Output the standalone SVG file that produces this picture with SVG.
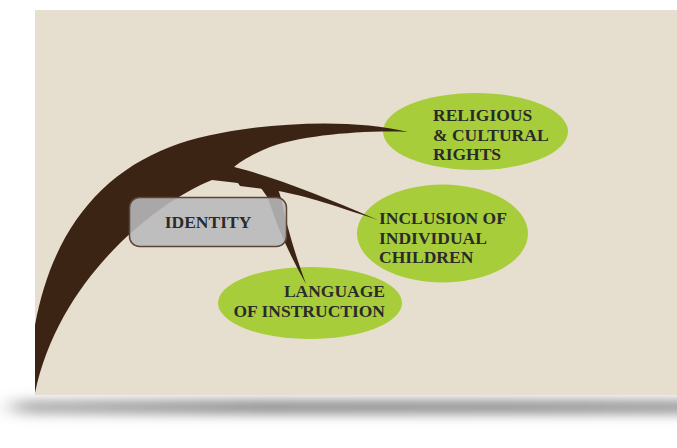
<svg xmlns="http://www.w3.org/2000/svg" width="677" height="448" viewBox="0 0 677 448">
<defs>
<style>
.bubble{fill:#a8cd3a}
.lbl{font-family:"Liberation Serif","Times New Roman",serif;font-weight:bold;font-size:17.5px;fill:#2a2a2a}
.branch{fill:#3c2415}
</style>
<clipPath id="panelClip"><rect x="35" y="10" width="642" height="385"/></clipPath>
<filter id="shadowBlur" x="-10%" y="-300%" width="120%" height="700%"><feGaussianBlur stdDeviation="12 6"/></filter>
<linearGradient id="shadowGrad" x1="0" y1="0" x2="1" y2="0">
<stop offset="0" stop-color="#b0b0b0"/>
<stop offset="0.35" stop-color="#8a8a8a"/>
<stop offset="0.7" stop-color="#8e8e8e"/>
<stop offset="1" stop-color="#999999"/>
</linearGradient>
</defs>
<rect x="0" y="0" width="677" height="448" fill="#ffffff"/>
<rect x="14" y="400" width="700" height="14" fill="url(#shadowGrad)" filter="url(#shadowBlur)"/>
<rect x="35" y="10" width="642" height="385" fill="#e6dfcf"/>

<g id="node-religious">
<ellipse class="bubble" cx="475.5" cy="131.5" rx="92.5" ry="38.5"/>
<text class="lbl" x="433" y="121">RELIGIOUS</text>
<text class="lbl" x="433" y="141">&amp; CULTURAL</text>
<text class="lbl" x="433" y="160">RIGHTS</text>
</g>
<g id="node-inclusion">
<ellipse class="bubble" cx="442.5" cy="233.5" rx="85.5" ry="49"/>
<text class="lbl" x="379" y="224">INCLUSION OF</text>
<text class="lbl" x="379" y="244">INDIVIDUAL</text>
<text class="lbl" x="379" y="263">CHILDREN</text>
</g>
<g id="node-language">
<ellipse class="bubble" cx="310" cy="303" rx="92" ry="36"/>
<text class="lbl" x="385" y="297" text-anchor="end">LANGUAGE</text>
<text class="lbl" x="385" y="317" text-anchor="end">OF INSTRUCTION</text>
</g>

<g id="connectors" clip-path="url(#panelClip)">
<path class="branch" d="M 28,400 C 30,270 77,183 170,147 C 226,125 340,115 408,132 C 360,130 300,136 270,147 C 255,153 240,161 233,168 L 255,185 L 212,180 C 150,205 55,285 34,398 Z"/>
<path class="branch" d="M 226,165 C 270,175 320,195 378,220 C 330,204 300,194 272,190 L 240,186 Z"/>
<path class="branch" d="M 256,181 L 268,198 Q 281,240 306,284 Q 289,238 281,198 L 277,186 Z"/>
</g>

<g id="node-identity">
<rect x="129.5" y="197.5" width="157" height="49" rx="10" ry="10" fill="#b8b9bd" fill-opacity="0.88" stroke="#5b4636" stroke-width="1.5"/>
<text class="lbl" x="208" y="228" text-anchor="middle">IDENTITY</text>
</g>
</svg>
